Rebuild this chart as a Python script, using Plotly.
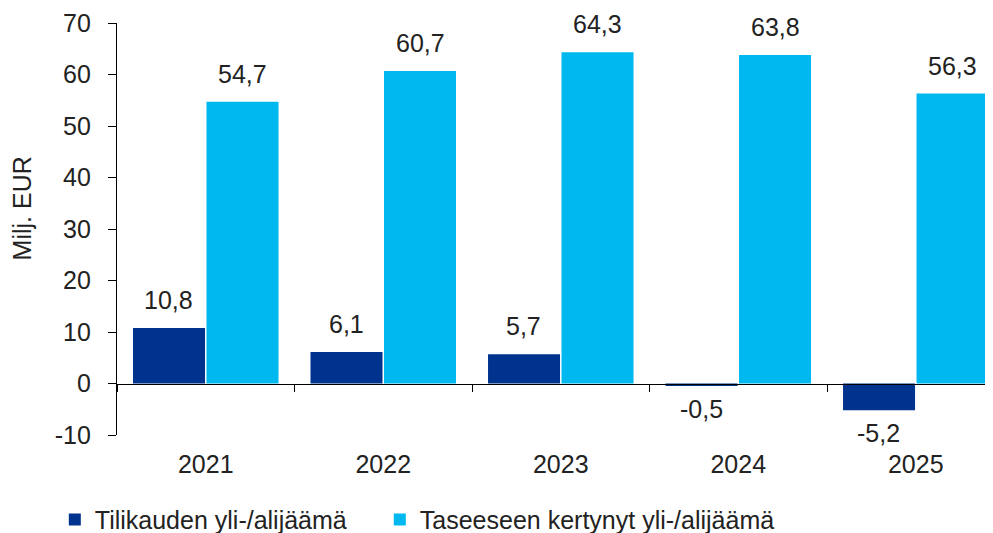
import plotly.graph_objects as go

years = ["2021", "2022", "2023", "2024", "2025"]
tilikauden = [10.8, 6.1, 5.7, -0.5, -5.2]
taseeseen = [54.7, 60.7, 64.3, 63.8, 56.3]
labels_tilikauden = ["10,8", "6,1", "5,7", "-0,5", "-5,2"]
labels_taseeseen = ["54,7", "60,7", "64,3", "63,8", "56,3"]
y_ticks = [-10, 0, 10, 20, 30, 40, 50, 60, 70]
y_tick_labels = ["-10", "0", "10", "20", "30", "40", "50", "60", "70"]

name1 = "Tilikauden yli-/alijäämä"
name2 = "Taseeseen kertynyt yli-/alijäämä"
dark = "#00338D"
light = "#00B8F0"
txt = "#222222"
FONT = "Liberation Sans, Arial, sans-serif"
FS = 25

fig = go.Figure()
fig.add_bar(x=years, y=tilikauden, name=name1, legend="legend",
            marker=dict(color=dark, line=dict(width=0)))
fig.add_bar(x=years, y=taseeseen, name=name2, legend="legend2",
            marker=dict(color=light, line=dict(width=0)))

annotations = []
for series, labs, shift in ((tilikauden, labels_tilikauden, -37), (taseeseen, labels_taseeseen, 37)):
    for i, (v, lab) in enumerate(zip(series, labs)):
        annotations.append(dict(x=i, y=v, xref="x", yref="y", text=lab, showarrow=False,
                                xshift=shift,
                                yanchor="bottom" if v >= 0 else "top",
                                yshift=12 if v >= 0 else -7,
                                font=dict(size=FS, color=txt, family=FONT)))
annotations.append(dict(text="Milj. EUR", xref="paper", yref="paper", x=0, y=0.55,
                        xanchor="center", yanchor="middle", xshift=-95, textangle=-90,
                        showarrow=False, font=dict(size=FS, color=txt, family=FONT)))

leg_common = dict(orientation="h", xanchor="left", yanchor="top", y=-0.15,
                  font=dict(size=FS, color=txt, family=FONT), bgcolor="rgba(0,0,0,0)")

fig.update_layout(
    width=985, height=525,
    margin=dict(l=109, r=0, t=15, b=98, autoexpand=False),
    paper_bgcolor="white", plot_bgcolor="white",
    barmode="group", bargap=0.172, bargroupgap=0.02,
    font=dict(family=FONT, size=FS, color=txt),
    showlegend=True,
    legend=dict(x=-0.071, **leg_common),
    legend2=dict(x=0.300, **leg_common),
    annotations=annotations,
    xaxis=dict(type="category", range=[-0.5, 4.435], anchor="free", position=0.125,
               showline=True, linecolor="black", linewidth=1.3,
               ticks="outside", tickson="boundaries", ticklen=7, tickcolor="black",
               tickwidth=1.3, ticklabelstandoff=58, showgrid=False,
               tickfont=dict(size=FS, color=txt, family=FONT)),
    yaxis=dict(range=[-10, 70], tickvals=y_ticks, ticktext=y_tick_labels,
               showline=True, linecolor="black",
               linewidth=1.3, ticks="outside", ticklen=8, tickcolor="black", tickwidth=1.3,
               showgrid=False, zeroline=False, ticklabelstandoff=12,
               tickfont=dict(size=FS, color=txt, family=FONT)),
)

fig.write_html("out.html")
